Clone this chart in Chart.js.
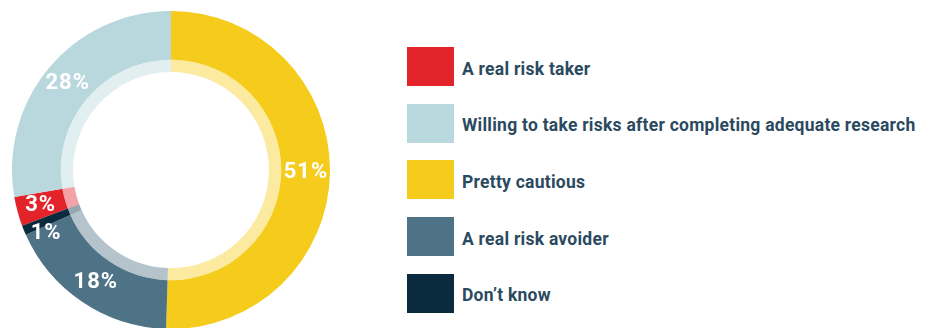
<!DOCTYPE html>
<html>
<head>
<meta charset="utf-8">
<script src="https://cdn.jsdelivr.net/npm/chart.js@4"></script>
<style>
  body{margin:0;background:#fff;width:932px;height:328px;overflow:hidden;position:relative;font-family:Roboto,"Open Sans",sans-serif}
  #wrap{position:absolute;left:12px;top:11px;width:318px;height:318px}
  #legend{position:absolute;left:407px;top:47px;margin:0;padding:0;list-style:none}
  #legend li{height:39px;margin-bottom:17.7px;display:flex;align-items:center}
  #legend .box{width:47px;height:39px;flex:none}
  #legend .txt{margin-left:8px;font-weight:700;font-size:17.5px;letter-spacing:0.25px;color:#2b4a5f;padding-top:4px;white-space:nowrap}
</style>
</head>
<body>
<div id="wrap"><canvas id="canvas"></canvas></div>
<ul id="legend"></ul>
<script>
// answers, in legend order
var categories = ['A real risk taker', 'Willing to take risks after completing adequate research', 'Pretty cautious', 'A real risk avoider', 'Don\u2019t know']
var percents = [3, 28, 51, 18, 1]
var colours = ['#e2232a', '#b8d8dd', '#f5cc1b', '#4e7386', '#0a2a3e']
var pale = ['rgba(226,35,42,0.42)', 'rgba(184,216,221,0.42)', 'rgba(245,204,27,0.42)', 'rgba(78,115,134,0.42)', 'rgba(10,42,62,0.42)']

// yellow slice starts at 12 o'clock
var total = percents.reduce(function(a, b){ return a + b }, 0)
var startRot = -(percents[0] + percents[1]) / total * 360

// percent labels in the middle of each slice
var sliceLabels = {
    id: 'sliceLabels',
    afterDatasetsDraw: function(chart){
        var ctx = chart.ctx
        var meta = chart.getDatasetMeta(0)
        var pts = meta.data.map(function(arc, i){
            var a = (arc.startAngle + arc.endAngle) / 2
            var r = 135
            return { i: i, x: arc.x + Math.cos(a) * r, y: arc.y + Math.sin(a) * r }
        })
        // small slices sit next to each other, keep their labels apart
        var last = pts[pts.length - 1], first = pts[0]
        if (Math.abs(last.y - first.y) < 28 && Math.abs(last.x - first.x) < 40) {
            last.y = first.y + 28
        }
        ctx.save()
        ctx.fillStyle = '#fff'
        ctx.font = 'bold 22px Roboto'
        ctx.letterSpacing = '1px'
        ctx.textAlign = 'center'
        ctx.textBaseline = 'middle'
        pts.forEach(function(p){
            ctx.fillText(percents[p.i] + '%', p.x, p.y)
        })
        ctx.restore()
    }
}

var chart = new Chart(canvas, {
    type: 'doughnut',
    data: {
        labels: categories,
        datasets: [{
            data: percents,
            backgroundColor: colours,
            borderWidth: 0,
            weight: 4
        }, {
            data: percents,
            backgroundColor: pale,
            borderWidth: 0,
            weight: 1
        }]
    },
    options: {
        responsive: true,
        maintainAspectRatio: false,
        animation: false,
        cutout: 98,
        rotation: startRot,
        plugins: {
            legend: { display: false },
            tooltip: { enabled: false }
        }
    },
    plugins: [sliceLabels]
})

// legend built from the same arrays
var legend = document.getElementById('legend')
categories.forEach(function(name, i){
    var li = document.createElement('li')
    li.innerHTML = '<span class="box" style="background:' + colours[i] + '"></span><span class="txt"></span>'
    li.querySelector('.txt').textContent = name
    legend.appendChild(li)
})
</script>
</body>
</html>
